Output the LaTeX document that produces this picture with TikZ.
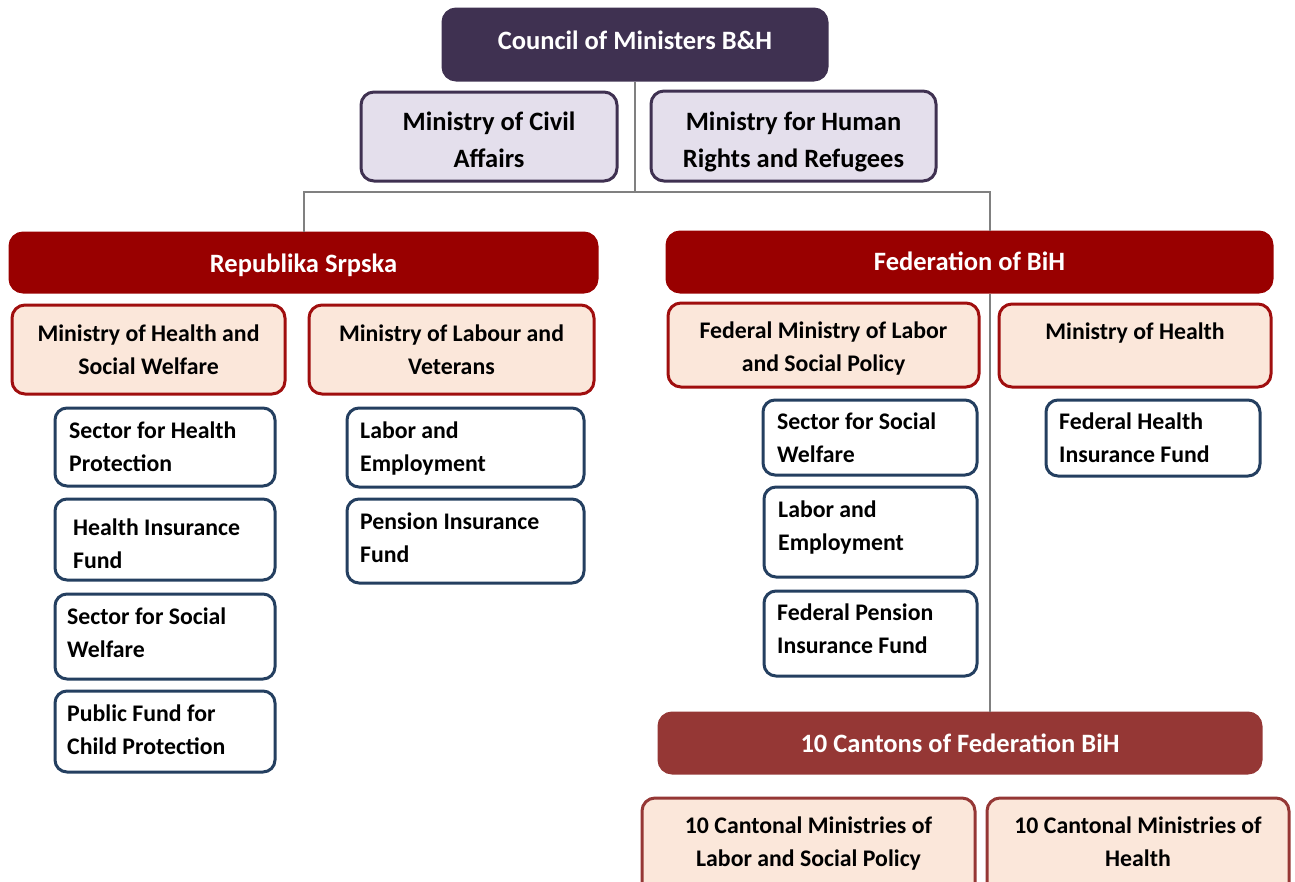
\documentclass[tikz,border=0pt]{standalone}
\usepackage{fontspec}
\setmainfont{Carlito}

\definecolor{councilfill}{HTML}{3F3151}
\definecolor{lavender}{HTML}{E4DFEC}
\definecolor{entityred}{HTML}{990000}
\definecolor{cantonred}{HTML}{953735}
\definecolor{peach}{HTML}{FBE7DA}
\definecolor{peachedge}{HTML}{A00E0E}
\definecolor{leafedge}{HTML}{243F60}
\definecolor{linkgray}{HTML}{808080}

\newcommand{\bigfont}{\fontsize{26.5}{37}\selectfont\bfseries}
\newcommand{\smallfont}{\fontsize{23.8}{33}\selectfont\bfseries}

\tikzset{
  box/.style={rectangle, rounded corners=13pt, line width=3pt, inner sep=0pt},
  topbox/.style={box, fill=councilfill, draw=councilfill},
  midbox/.style={box, fill=lavender, draw=councilfill},
  entity/.style={box, fill=entityred, draw=entityred},
  canton/.style={box, fill=cantonred, draw=cantonred},
  ministry/.style={box, fill=peach, draw=peachedge},
  cantonmin/.style={box, fill=peach, draw=cantonred},
  leaf/.style={box, rounded corners=12pt, fill=white, draw=leafedge},
  bigtext/.style={inner sep=0pt, align=center, font=\bigfont},
  lighttext/.style={bigtext, text=white},
  midtext/.style={inner sep=0pt, align=center, font=\smallfont},
  leaftext/.style={inner xsep=1.5pt, inner ysep=0pt, align=left, anchor=west, font=\smallfont},
  link/.style={draw=linkgray, line width=2pt}
}

\begin{document}
\begin{tikzpicture}[x=1pt, y=-1pt]
\useasboundingbox (0,0) rectangle (1295,881);
\clip (0,0) rectangle (1295,881);

% connector junctions
\coordinate (bus) at (635,192);
\coordinate (spine) at (990,0);

% state level
\node[topbox, minimum width=384pt, minimum height=71pt] (council) at (635,44.5) {};
\node[lighttext, yshift=4pt] (councilt) at (council.center) {Council of Ministers B\&H};
\node[midbox, minimum width=256pt, minimum height=89pt] (civil) at (489,136.5) {};
\node[bigtext, yshift=-3pt] (civilt) at (civil.center) {Ministry of Civil\\Affairs};
\node[midbox, minimum width=285pt, minimum height=90pt] (human) at (793.5,136) {};
\node[bigtext, yshift=-6pt] (humant) at (human.center) {Ministry for Human\\Rights and Refugees};

% entities
\node[entity, minimum width=587pt, minimum height=59pt] (rs) at (303.5,262.5) {};
\node[lighttext, yshift=-3pt] (rst) at (rs.center) {Republika Srpska};
\node[entity, minimum width=605pt, minimum height=60pt] (fed) at (969.5,262) {};
\node[lighttext, yshift=1pt] (fedt) at (fed.center) {Federation of BiH};

\draw[link] (council.south) -- (bus);
\draw[link] (bus) -| (rs.north);
\draw[link] (bus) -| (fed.north -| spine);

% Republika Srpska ministries
\node[ministry, minimum width=273pt, minimum height=89pt] (rsmh) at (148.5,349.5) {};
\node[midtext] (rsmht) at (rsmh.center) {Ministry of Health and\\Social Welfare};
\node[ministry, minimum width=285pt, minimum height=89pt] (rsml) at (451.5,349.5) {};
\node[midtext] (rsmlt) at (rsml.center) {Ministry of Labour and\\Veterans};

\node[leaf, minimum width=220pt, minimum height=78pt] (rs1) at (165,447) {};
\node[leaftext, xshift=14pt] (rs1t) at (rs1.west) {Sector for Health\\Protection};
\node[leaf, minimum width=220pt, minimum height=81pt] (rs2) at (165,539.5) {};
\node[leaftext, xshift=18pt, yshift=-4pt] (rs2t) at (rs2.west) {Health Insurance\\Fund};
\node[leaf, minimum width=220pt, minimum height=85pt] (rs3) at (165,636.5) {};
\node[leaftext, xshift=12pt, yshift=4pt] (rs3t) at (rs3.west) {Sector for Social\\Welfare};
\node[leaf, minimum width=220pt, minimum height=81pt] (rs4) at (165,731.5) {};
\node[leaftext, xshift=12pt, yshift=2pt] (rs4t) at (rs4.west) {Public Fund for\\Child Protection};

\node[leaf, minimum width=237pt, minimum height=79pt] (rs5) at (465.5,447.5) {};
\node[leaftext, xshift=13pt, yshift=-1pt] (rs5t) at (rs5.west) {Labor and\\Employment};
\node[leaf, minimum width=237pt, minimum height=84pt] (rs6) at (465.5,541) {};
\node[leaftext, xshift=13pt, yshift=3pt] (rs6t) at (rs6.west) {Pension Insurance\\Fund};

% Federation spine down to the cantons
\node[canton, minimum width=602pt, minimum height=60pt] (cantons) at (960,743) {};
\node[lighttext] (cantonst) at (cantons.center) {10 Cantons of Federation BiH};
\draw[link] (fed.south -| spine) -- (cantons.north -| spine);

% Federation ministries
\node[ministry, minimum width=311pt, minimum height=84pt] (fedml) at (823.5,345) {};
\node[midtext, yshift=-4pt] (fedmlt) at (fedml.center) {Federal Ministry of Labor\\and Social Policy};
\node[ministry, minimum width=272pt, minimum height=83pt] (fedmh) at (1135,345.5) {};
\node[midtext, yshift=-2pt] (fedmht) at (fedmh.center) {Ministry of Health\\~};

\node[leaf, minimum width=214pt, minimum height=75pt] (fed1) at (870,437.5) {};
\node[leaftext, xshift=14pt] (fed1t) at (fed1.west) {Sector for Social\\Welfare};
\node[leaf, minimum width=213pt, minimum height=90pt] (fed2) at (870.5,532) {};
\node[leaftext, xshift=14pt, yshift=4pt] (fed2t) at (fed2.west) {Labor and\\Employment};
\node[leaf, minimum width=213pt, minimum height=85pt] (fed3) at (870.5,633.5) {};
\node[leaftext, xshift=13pt, yshift=5pt] (fed3t) at (fed3.west) {Federal Pension\\Insurance Fund};
\node[leaf, minimum width=214pt, minimum height=76pt] (fed4) at (1153,438) {};
\node[leaftext, xshift=13pt] (fed4t) at (fed4.west) {Federal Health\\Insurance Fund};

% cantonal ministries
\node[cantonmin, minimum width=333pt, minimum height=100pt] (cml) at (808.5,848) {};
\node[midtext, yshift=4pt] (cmlt) at (cml.center) {10 Cantonal Ministries of\\Labor and Social Policy};
\node[cantonmin, minimum width=302pt, minimum height=100pt] (cmh) at (1138,848) {};
\node[midtext, yshift=6pt] (cmht) at (cmh.center) {10 Cantonal Ministries of\\Health};
\end{tikzpicture}
\end{document}
